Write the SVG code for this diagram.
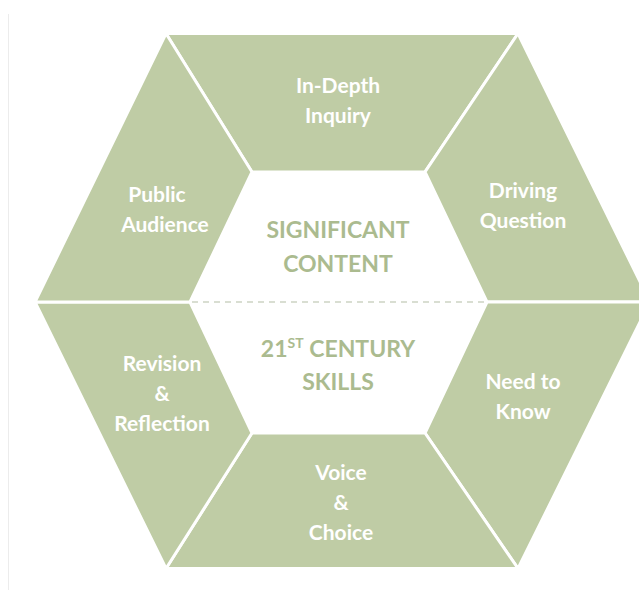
<svg xmlns="http://www.w3.org/2000/svg" width="639" height="597" viewBox="0 0 639 597">
  <style>
    .seg { fill: #bfcca5; stroke: #ffffff; stroke-width: 3; stroke-linejoin: miter; }
    .lbl { font-family: Lato, "Open Sans", "Liberation Sans", sans-serif; font-weight: bold; font-size: 21px; fill: #ffffff; text-anchor: middle; }
    .ctr { font-family: Lato, "Open Sans", "Liberation Sans", sans-serif; font-weight: bold; font-size: 23px; fill: #abbb8f; text-anchor: middle; }
  </style>
  <rect width="639" height="597" fill="#ffffff"/>
  <line x1="8.5" y1="14" x2="8.5" y2="590" stroke="#ececec" stroke-width="1"/>

  <g id="in-depth-inquiry">
    <polygon class="seg" points="166,33.5 518,33.5 425,172 252,172"/>
    <text class="lbl" x="338" y="93">In-Depth</text>
    <text class="lbl" x="338" y="123">Inquiry</text>
  </g>
  <g id="driving-question">
    <polygon class="seg" points="518,33.5 650,302 487,302 425,172"/>
    <text class="lbl" x="523" y="198">Driving</text>
    <text class="lbl" x="523" y="228">Question</text>
  </g>
  <g id="need-to-know">
    <polygon class="seg" points="650,302 518,568.5 425,433 487,302"/>
    <text class="lbl" x="523" y="389">Need to</text>
    <text class="lbl" x="523" y="419">Know</text>
  </g>
  <g id="voice-choice">
    <polygon class="seg" points="518,568.5 166,568.5 252,433 425,433"/>
    <text class="lbl" x="341" y="480">Voice</text>
    <text class="lbl" x="341" y="510">&amp;</text>
    <text class="lbl" x="341" y="540">Choice</text>
  </g>
  <g id="revision-reflection">
    <polygon class="seg" points="166,568.5 35,302 190,302 252,433"/>
    <text class="lbl" x="162" y="371">Revision</text>
    <text class="lbl" x="162" y="401">&amp;</text>
    <text class="lbl" x="162" y="431">Reflection</text>
  </g>
  <g id="public-audience">
    <polygon class="seg" points="35,302 166,33.5 252,172 190,302"/>
    <text class="lbl" x="157" y="202">Public</text>
    <text class="lbl" x="165" y="232">Audience</text>
  </g>

  <g id="connectors">
    <line x1="192" y1="302" x2="485" y2="302" stroke="#cdd3c4" stroke-width="1.5" stroke-dasharray="6,5"/>
  </g>

  <g id="significant-content">
    <text class="ctr" x="338" y="238">SIGNIFICANT</text>
    <text class="ctr" x="338" y="272">CONTENT</text>
  </g>
  <g id="century-skills">
    <text class="ctr" x="338" y="357">21<tspan font-size="14" dy="-9">ST</tspan><tspan dy="9"> CENTURY</tspan></text>
    <text class="ctr" x="338" y="390">SKILLS</text>
  </g>
</svg>
